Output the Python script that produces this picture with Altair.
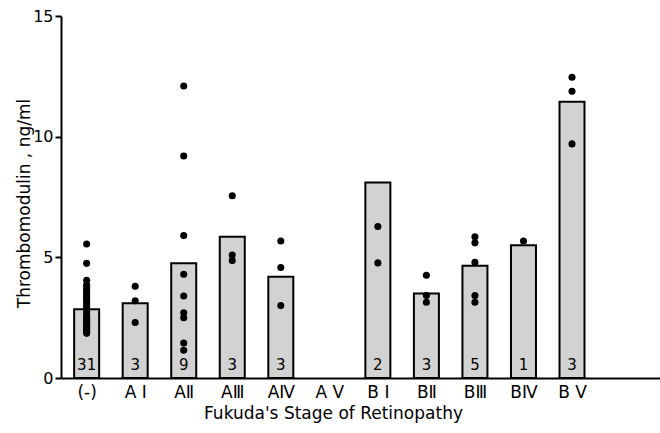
import json
import altair as alt
import pandas as pd

# ---- data ----
stages = ["(-)", "A Ⅰ", "AⅡ", "AⅢ", "AⅣ", "A V", "B Ⅰ", "BⅡ", "BⅢ", "BⅣ", "B V"]
bar_values = [2.85, 3.1, 4.75, 5.85, 4.2, None, 8.1, 3.5, 4.65, 5.5, 11.45]
counts = [31, 3, 9, 3, 3, None, 2, 3, 5, 1, 3]

pts_minus = [5.55, 4.75, 4.05, 3.85, 3.75, 3.65, 3.6, 3.5, 3.4, 3.35, 3.25, 3.15,
             3.05, 2.95, 2.85, 2.75, 2.65, 2.55, 2.5, 2.45, 2.4, 2.35, 2.3, 2.25,
             2.2, 2.1, 2.05, 2.0, 1.95, 1.9, 1.85]
pts_AI = [3.8, 3.2, 2.3]
pts_AII = [12.1, 9.2, 5.9, 4.3, 3.4, 2.7, 2.5, 1.45, 1.15]
pts_AIII = [7.55, 5.1, 4.87]
pts_AIV = [5.68, 4.58, 3.0]
pts_AV = []
pts_BI = [6.28, 4.77]
pts_BII = [4.26, 3.42, 3.14]
pts_BIII = [5.85, 5.6, 4.79, 3.42, 3.14]
pts_BIV = [5.68]
pts_BV = [12.46, 11.88, 9.7]

all_points = [pts_minus, pts_AI, pts_AII, pts_AIII, pts_AIV, pts_AV,
              pts_BI, pts_BII, pts_BIII, pts_BIV, pts_BV]

y_ticks = [0, 5, 10, 15]

# ---- tables ----
bars = pd.DataFrame({"idx": list(range(len(stages))), "stage": stages,
                     "value": bar_values, "n": counts}).dropna(subset=["value"])
bars["n"] = bars["n"].astype(int).astype(str)
dots = pd.DataFrame([{"idx": i, "value": v} for i, pl in enumerate(all_points) for v in pl])

label_expr = json.dumps(stages) + "[datum.value]"

x_scale = alt.Scale(domain=[-0.4255, 11.71], nice=False, zero=False)
y_scale = alt.Scale(domain=[0, 15], nice=False)

x_axis = alt.Axis(values=list(range(len(stages))), labelExpr=label_expr, ticks=False,
                  grid=False, domainColor="black", domainWidth=2, labelFontSize=17,
                  labelColor="black", labelPadding=6,
                  title="Fukuda's Stage of Retinopathy", titleFontSize=17,
                  titleFontWeight="normal", titleColor="black", titleX=272, titleY=27,
                  titleBaseline="top")
y_axis = alt.Axis(values=y_ticks, grid=False, domainColor="black", domainWidth=2,
                  tickColor="black", tickWidth=2, tickSize=6, labelFontSize=16,
                  labelColor="black", labelPadding=2,
                  title="Thrombomodulin , ng/ml", titleFontSize=17,
                  titleFontWeight="normal", titleColor="black", titleX=-28, titleY=187)

bar = alt.Chart(bars).mark_bar(size=25, fill="#d2d2d2", stroke="black", strokeWidth=2).encode(
    x=alt.X("idx:Q", scale=x_scale, axis=x_axis),
    y=alt.Y("value:Q", scale=y_scale, axis=y_axis),
)

num = alt.Chart(bars).mark_text(fontSize=15, baseline="bottom", dy=-5, color="black").encode(
    x=alt.X("idx:Q", scale=x_scale),
    y=alt.datum(0),
    text="n:N",
)

pts = alt.Chart(dots).mark_circle(size=50, color="black", opacity=1).encode(
    x=alt.X("idx:Q", scale=x_scale),
    y=alt.Y("value:Q", scale=y_scale),
)

chart = (bar + num + pts).properties(
    width=599, height=362,
    autosize=alt.AutoSizeParams(type="none"),
    padding={"left": 61, "top": 16, "right": 0, "bottom": 55},
).configure(font="DejaVu Sans", background="white").configure_view(stroke=None)

chart.save("out.html", embed_options={"renderer": "svg", "actions": False})
